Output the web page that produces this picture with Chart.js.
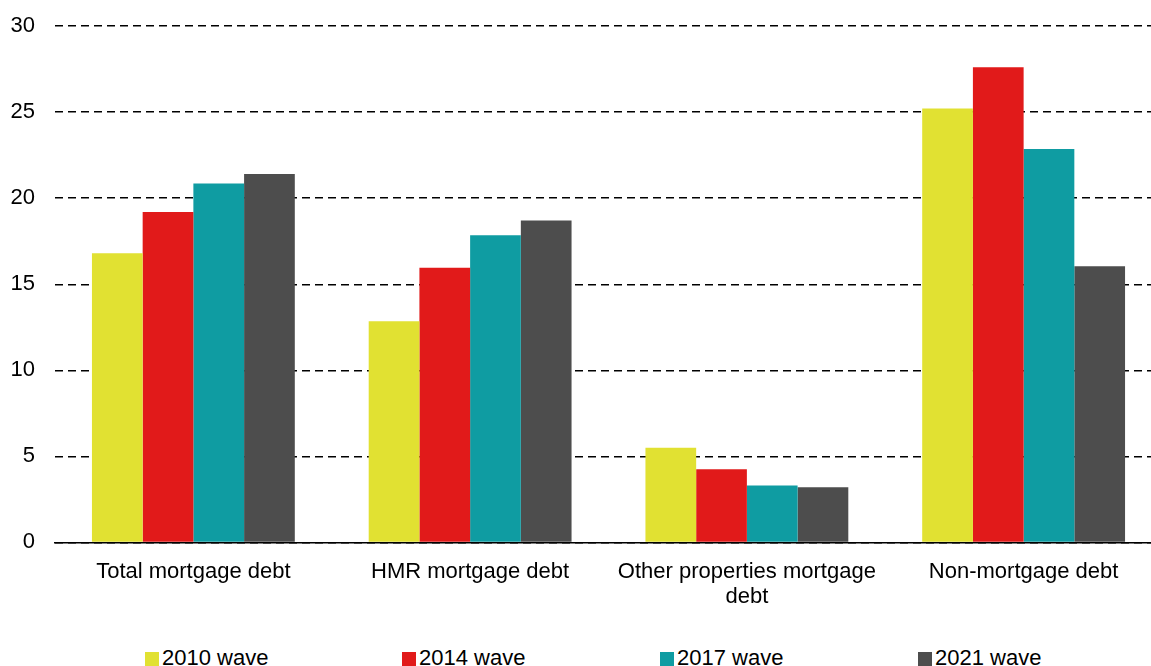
<!DOCTYPE html>
<html lang="en">
<head>
    <meta charset="UTF-8">
    <title>Debt by wave</title>
    <script src="https://cdn.jsdelivr.net/npm/chart.js"></script>
    <style>
        body {
            margin: 0;
            overflow: hidden;
            background-color: #ffffff;
            font-family: 'Liberation Sans', Arial, sans-serif;
        }

        .chart-box {
            position: relative;
            width: 1165px;
            height: 623px;
        }

        .legend {
            position: absolute;
            top: 645px;
            left: 0;
            width: 1151px;
            height: 26px;
        }

        .legend-item {
            position: absolute;
            top: 0;
            font-size: 22px;
            color: #000;
            line-height: 26px;
            white-space: nowrap;
        }

        .legend-item span {
            display: inline-block;
            width: 14px;
            height: 14px;
            margin-right: 3px;
            vertical-align: -1px;
        }
    </style>
</head>
<body>

    <div class="chart-box">
        <canvas id="barChart"></canvas>
    </div>
    <div class="legend" id="legend"></div>

    <script>
        // data
        const categories = ["Total mortgage debt", "HMR mortgage debt", ["Other properties mortgage", "debt"], "Non-mortgage debt"];
        const waves = ["2010 wave", "2014 wave", "2017 wave", "2021 wave"];
        const wave2010 = [16.8, 12.85, 5.5, 25.2];
        const wave2014 = [19.2, 15.95, 4.25, 27.6];
        const wave2017 = [20.85, 17.85, 3.3, 22.85];
        const wave2021 = [21.4, 18.7, 3.2, 16.05];
        const colors = ["#e1e132", "#e11a1a", "#0f9ca2", "#4d4d4d"];
        const legendLeft = [145, 402, 660, 918];

        const series = [wave2010, wave2014, wave2017, wave2021];
        const fontFamily = "'Liberation Sans', Arial, sans-serif";

        const ctx = document.getElementById('barChart').getContext('2d');
        new Chart(ctx, {
            type: 'bar',
            data: {
                labels: categories,
                datasets: series.map((values, i) => ({
                    label: waves[i],
                    data: values,
                    backgroundColor: colors[i],
                    borderWidth: 0,
                    categoryPercentage: 0.733,
                    barPercentage: 1.0
                }))
            },
            options: {
                responsive: true,
                maintainAspectRatio: false,
                animation: false,
                layout: {
                    padding: { left: 9, right: 3, top: 26, bottom: 4 }
                },
                plugins: {
                    legend: { display: false },
                    tooltip: { enabled: false }
                },
                scales: {
                    x: {
                        grid: { display: false },
                        border: { display: true, color: '#000', width: 1.5 },
                        ticks: {
                            color: '#000',
                            padding: 9,
                            maxRotation: 0,
                            font: { family: fontFamily, size: 22, lineHeight: 1.15 }
                        }
                    },
                    y: {
                        min: 0,
                        max: 30,
                        afterFit: (axis) => {
                            axis.width = 46;
                            axis.paddingTop = 0;
                        },
                        ticks: {
                            stepSize: 5,
                            color: '#000',
                            padding: 20,
                            font: { family: fontFamily, size: 22 }
                        },
                        grid: {
                            color: '#000',
                            lineWidth: 1.4,
                            drawTicks: false
                        },
                        border: { display: false, dash: [8, 5] }
                    }
                }
            }
        });

        // legend spread across the bottom like the original
        const legend = document.getElementById('legend');
        waves.forEach((name, i) => {
            const item = document.createElement('div');
            item.className = 'legend-item';
            item.style.left = legendLeft[i] + 'px';
            item.innerHTML = '<span style="background:' + colors[i] + '"></span>' + name;
            legend.appendChild(item);
        });
    </script>

</body>
</html>
